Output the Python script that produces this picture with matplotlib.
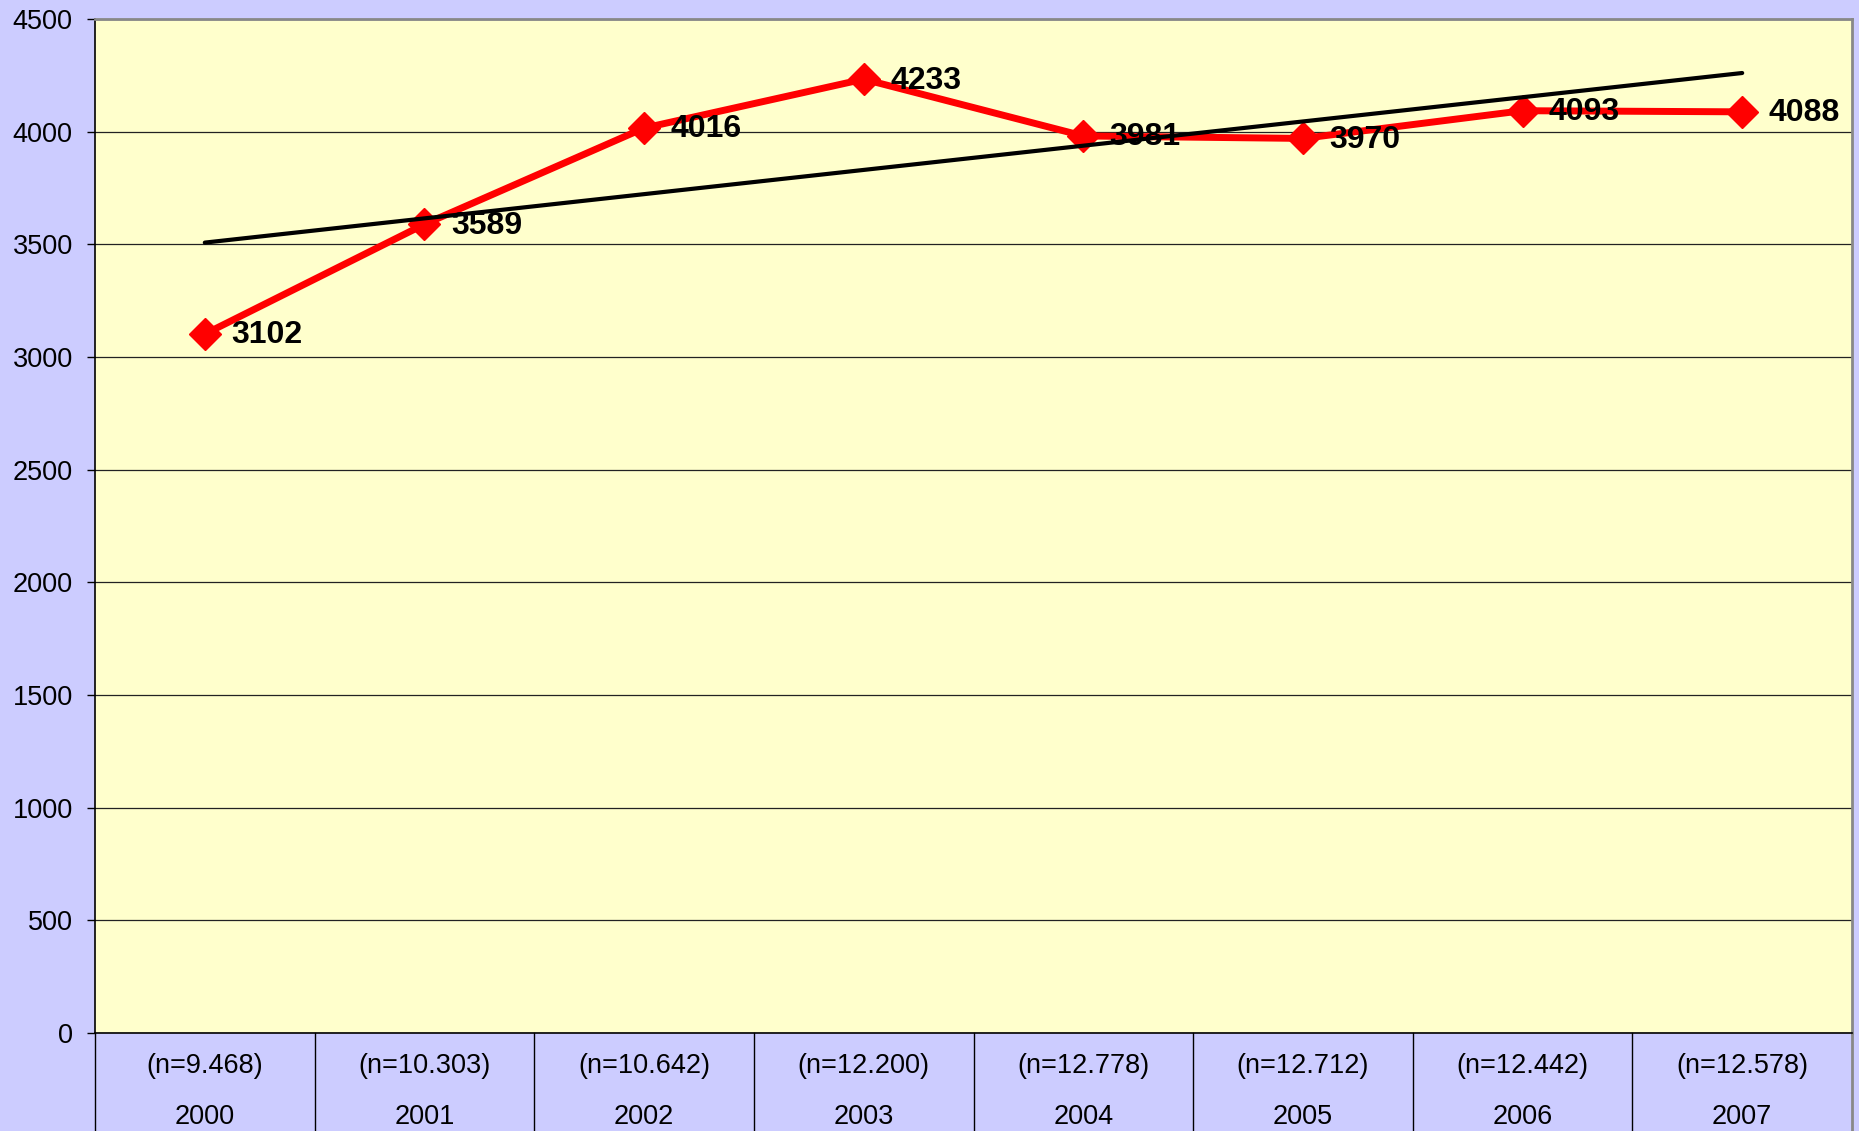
import matplotlib
matplotlib.use("Agg")
import matplotlib.pyplot as plt
import numpy as np

years = ["2000", "2001", "2002", "2003", "2004", "2005", "2006", "2007"]
n_labels = ["(n=9.468)", "(n=10.303)", "(n=10.642)", "(n=12.200)",
            "(n=12.778)", "(n=12.712)", "(n=12.442)", "(n=12.578)"]
values = [3102, 3589, 4016, 4233, 3981, 3970, 4093, 4088]
y_ticks = [0, 500, 1000, 1500, 2000, 2500, 3000, 3500, 4000, 4500]

plt.rcParams['font.family'] = ['Liberation Sans', 'DejaVu Sans']

W, H = 1859, 1131
fig = plt.figure(figsize=(W / 100, H / 100), dpi=100, facecolor='#CCCCFF')
left, right, top, bottom = 95, 1852, 19, 1033
ax = fig.add_axes([left / W, (H - bottom) / H, (right - left) / W, (bottom - top) / H])
ax.set_facecolor('#FFFFCC')

n = len(years)
x = np.arange(n) + 0.5
ax.set_xlim(0, n)
ax.set_ylim(y_ticks[0], y_ticks[-1])
ax.set_yticks(y_ticks)
ax.set_yticklabels([str(t) for t in y_ticks], fontsize=19.5)
ax.set_xticks([])
ax.tick_params(axis='y', length=6, width=1, pad=10, color='black')
ax.yaxis.grid(True, color='#222222', lw=0.9)
ax.set_axisbelow(True)

ax.plot(x, values, color='#FF0000', lw=5, marker='D', ms=16,
        markeredgecolor='#FF0000', zorder=3, solid_joinstyle='miter')

coef = np.polyfit(np.arange(n), values, 1)
trend = np.polyval(coef, np.arange(n))
ax.plot(x, trend, color='black', lw=3, zorder=4, solid_capstyle='round')

for xi, v in zip(x, values):
    ax.annotate(str(v), (xi, v), xytext=(19, -1), textcoords='offset points',
                ha='left', va='center', fontsize=23, fontweight='bold',
                color='black', zorder=6)

for s in ['left', 'bottom']:
    ax.spines[s].set_color('black')
    ax.spines[s].set_linewidth(1.2)
for s in ['top', 'right']:
    ax.spines[s].set_color('#888888')
    ax.spines[s].set_linewidth(2)

tr = ax.get_xaxis_transform()
for xi, nl, yr in zip(x, n_labels, years):
    ax.text(xi, -0.033, nl, transform=tr, ha='center', va='center', fontsize=19.5)
    ax.text(xi, -0.0825, yr, transform=tr, ha='center', va='center', fontsize=19.5)

for b in range(0, n + 1):
    col = '#888888' if b == n else 'black'
    lw = 2 if b == n else 1
    ax.plot([b, b], [0, -0.12], transform=tr, clip_on=False, color=col, lw=lw)

fig.savefig('out.png', dpi=100, facecolor=fig.get_facecolor())
